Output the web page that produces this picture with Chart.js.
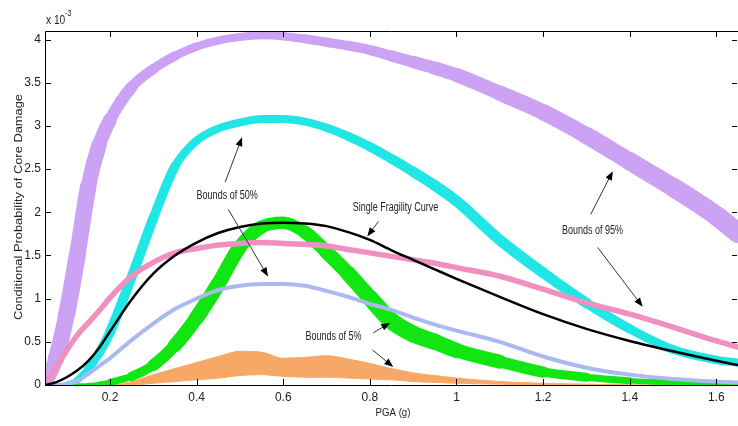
<!DOCTYPE html>
<html>
<head>
<meta charset="utf-8">
<script src="https://cdn.jsdelivr.net/npm/chart.js@4.4.0/dist/chart.umd.min.js"></script>
<style>
  html, body { margin: 0; padding: 0; background: #fff; }
  #wrap { width: 738px; height: 426px; }
</style>
</head>
<body>
<div id="wrap"><canvas id="chart" width="738" height="426"></canvas></div>
<script>
// PGA (g) sample points; probabilities are in units of 1e-3
const pga = [0.05, 0.075, 0.1, 0.125, 0.15, 0.175, 0.2, 0.25, 0.3, 0.35, 0.4, 0.45, 0.5, 0.55, 0.6,
  0.65, 0.7, 0.75, 0.8, 0.85, 0.9, 0.95, 1.0, 1.1, 1.2, 1.3, 1.4, 1.5, 1.6, 1.65];

const bound95Upper = [0.02, 0.3, 0.82, 1.52, 2.3, 2.78, 3.07, 3.45, 3.66, 3.81, 3.92, 3.99, 4.03, 4.05, 4.04,
  4.01, 3.97, 3.93, 3.88, 3.81, 3.74, 3.67, 3.59, 3.38, 3.16, 2.89, 2.59, 2.29, 1.96, 1.76];
const bound95Lower = [0, 0.2, 0.4, 0.58, 0.72, 0.86, 1.01, 1.26, 1.42, 1.53, 1.58, 1.62, 1.64, 1.65, 1.64,
  1.63, 1.61, 1.57, 1.53, 1.49, 1.45, 1.41, 1.36, 1.26, 1.11, 0.95, 0.82, 0.67, 0.51, 0.44];
const bound50Upper = [0, 0, 0.01, 0.06, 0.19, 0.37, 0.61, 1.25, 1.93, 2.53, 2.83, 2.97, 3.04, 3.08, 3.08,
  3.05, 2.98, 2.88, 2.76, 2.62, 2.47, 2.31, 2.13, 1.68, 1.30, 0.95, 0.65, 0.41, 0.29, 0.26];
const bound50Lower = [0, 0, 0.01, 0.05, 0.13, 0.22, 0.31, 0.52, 0.71, 0.88, 1.0, 1.1, 1.15, 1.17, 1.17,
  1.15, 1.09, 1.02, 0.94, 0.87, 0.78, 0.70, 0.63, 0.50, 0.33, 0.20, 0.12, 0.07, 0.04, 0.03];
const singleCurve = [0, 0.03, 0.09, 0.17, 0.28, 0.43, 0.62, 0.99, 1.29, 1.50, 1.65, 1.76, 1.83, 1.87, 1.88,
  1.87, 1.84, 1.77, 1.68, 1.56, 1.45, 1.34, 1.23, 1.02, 0.82, 0.65, 0.51, 0.39, 0.28, 0.23];
const bound5Upper = [0, 0, 0, 0, 0, 0.01, 0.03, 0.10, 0.23, 0.46, 0.78, 1.17, 1.60, 1.83, 1.88,
  1.77, 1.54, 1.29, 1.01, 0.74, 0.59, 0.50, 0.40, 0.27, 0.15, 0.09, 0.05, 0.03, 0.02, 0.01];
// lower 5% bound is a noisy band: top and bottom edge
const bound5LowerTop = [0, 0, 0, 0, 0, 0, 0, 0.04, 0.12, 0.19, 0.26, 0.33, 0.39, 0.38, 0.31,
  0.32, 0.34, 0.30, 0.25, 0.19, 0.14, 0.11, 0.08, 0.04, 0.02, 0.01, 0, 0, 0, 0];
const bound5LowerBottom = [0, 0, 0, 0, 0, 0, 0, 0, 0.02, 0.04, 0.06, 0.08, 0.11, 0.12, 0.10,
  0.09, 0.09, 0.08, 0.07, 0.06, 0.04, 0.03, 0.02, 0.01, 0, 0, 0, 0, 0, 0];

const xTicks = [0.2, 0.4, 0.6, 0.8, 1, 1.2, 1.4, 1.6];
const yTicks = [0, 0.5, 1, 1.5, 2, 2.5, 3, 3.5, 4];

// band thickness (px) per sample point, the noisy curves are drawn as thick strokes
const purpleWidth = [14, 16, 17, 17, 16, 15, 13, 11, 10, 9, 8, 8, 8, 8, 8, 9, 9, 10, 10, 11, 12, 13, 14, 15, 16, 17, 18, 19, 20, 20];
const greenWidth = [2, 2, 2, 3, 4, 5, 6, 8, 11, 13, 15, 15, 14, 13, 12, 13, 14, 15, 16, 17, 17, 16, 15, 13, 10, 8, 6, 5, 4, 4];
const cyanWidth = [3, 3, 4, 6, 8, 9, 10, 10, 10, 9, 8, 8, 8, 8, 8, 8, 8, 9, 9, 10, 10, 11, 11, 11, 11, 10, 9, 9, 8, 8];

const notes = [
  { text: "Bounds of 50%", x: 0.4705, y: 2.19, arrows: [[0.466, 2.35, 0.505, 2.87], [0.473, 2.035, 0.565, 1.256]] },
  { text: "Single Fragility Curve", x: 0.859, y: 2.05, arrows: [[0.820, 1.895, 0.794, 1.72]] },
  { text: "Bounds of 5%", x: 0.716, y: 0.56, arrows: [[0.808, 0.605, 0.847, 0.721], [0.806, 0.407, 0.854, 0.209]] },
  { text: "Bounds of 95%", x: 1.314, y: 1.79, arrows: [[1.310, 1.977, 1.361, 2.477], [1.326, 1.593, 1.430, 0.907]] }
];

const pts = arr => arr.map((v, i) => ({ x: pga[i], y: v }));

function line(data, color, width, extra) {
  return Object.assign({
    data: pts(data), borderColor: color, backgroundColor: color, borderWidth: width,
    pointRadius: 0, fill: false, cubicInterpolationMode: "monotone", borderCapStyle: "round"
  }, extra || {});
}
function band(data, color, widths) {
  return line(data, color, widths[0], {
    segment: { borderWidth: c => (widths[c.p0DataIndex] + widths[c.p1DataIndex]) / 2 }
  });
}

const TXT = "#222";
const FONT = "'Liberation Sans', Arial, sans-serif";

const framePlugin = {
  id: "frame",
  afterDraw(chart) {
    const ctx = chart.ctx;
    const a = chart.chartArea;
    const xs = chart.scales.x, ys = chart.scales.y;
    ctx.save();
    ctx.strokeStyle = "#000";
    ctx.lineWidth = 1;
    ctx.beginPath();
    ctx.moveTo(a.left + 0.5, a.bottom + 0.5);
    ctx.lineTo(a.left + 0.5, a.top + 0.5);
    ctx.lineTo(a.right, a.top + 0.5);
    ctx.moveTo(a.left, a.bottom + 0.5);
    ctx.lineTo(a.right, a.bottom + 0.5);
    xTicks.forEach(v => {
      const px = Math.round(xs.getPixelForValue(v)) + 0.5;
      ctx.moveTo(px, a.bottom); ctx.lineTo(px, a.bottom - 6);
      ctx.moveTo(px, a.top); ctx.lineTo(px, a.top + 6);
    });
    yTicks.forEach(v => {
      const py = Math.round(ys.getPixelForValue(v)) + 0.5;
      ctx.moveTo(a.left, py); ctx.lineTo(a.left + 6, py);
      ctx.moveTo(a.right - 1, py); ctx.lineTo(a.right - 6, py);
    });
    ctx.stroke();

    // annotations
    ctx.fillStyle = TXT;
    ctx.font = "12px " + FONT;
    ctx.textBaseline = "middle";
    ctx.textAlign = "center";
    notes.forEach(n => {
      const px = xs.getPixelForValue(n.x), py = ys.getPixelForValue(n.y);
      ctx.save();
      ctx.translate(px, py);
      ctx.scale(0.75, 1);
      ctx.fillText(n.text, 0, 0);
      ctx.restore();
      n.arrows.forEach(ar => {
        const x1 = xs.getPixelForValue(ar[0]), y1 = ys.getPixelForValue(ar[1]);
        const x2 = xs.getPixelForValue(ar[2]), y2 = ys.getPixelForValue(ar[3]);
        const ang = Math.atan2(y2 - y1, x2 - x1);
        ctx.strokeStyle = "#333";
        ctx.lineWidth = 1;
        ctx.beginPath();
        ctx.moveTo(x1, y1);
        ctx.lineTo(x2 - 5 * Math.cos(ang), y2 - 5 * Math.sin(ang));
        ctx.stroke();
        ctx.fillStyle = "#000";
        ctx.beginPath();
        ctx.moveTo(x2, y2);
        ctx.lineTo(x2 - 9 * Math.cos(ang) + 3.5 * Math.sin(ang), y2 - 9 * Math.sin(ang) - 3.5 * Math.cos(ang));
        ctx.lineTo(x2 - 9 * Math.cos(ang) - 3.5 * Math.sin(ang), y2 - 9 * Math.sin(ang) + 3.5 * Math.cos(ang));
        ctx.closePath();
        ctx.fill();
        ctx.fillStyle = TXT;
      });
    });

    // axis titles and exponent
    ctx.font = "11px " + FONT;
    ctx.textAlign = "center";
    ctx.textBaseline = "middle";
    ctx.save();
    ctx.translate(393, 413);
    ctx.scale(0.88, 1);
    ctx.fillText("PGA (g)", 0, 0);
    ctx.restore();
    ctx.save();
    ctx.translate(19, 207);
    ctx.rotate(-Math.PI / 2);
    ctx.scale(1.17, 1);
    ctx.fillText("Conditional Probability of Core Damage", 0, 0);
    ctx.restore();
    ctx.textAlign = "left";
    ctx.textBaseline = "alphabetic";
    ctx.font = "12px " + FONT;
    ctx.save();
    ctx.translate(46, 24);
    ctx.scale(0.85, 1);
    ctx.fillText("x 10", 0, 0);
    ctx.font = "9px " + FONT;
    ctx.fillText("-3", 22, -8);
    ctx.restore();
    ctx.restore();
  }
};

new Chart(document.getElementById("chart"), {
  type: "line",
  data: {
    datasets: [
      line(singleCurve, "#000000", 2.5),
      line(bound95Lower, "#ef90c0", 5.5),
      line(bound50Lower, "#aab9ef", 4),
      band(bound50Upper, "#20e6e6", cyanWidth),
      band(bound95Upper, "#cca2f4", purpleWidth),
      band(bound5Upper, "#12e612", greenWidth),
      line(bound5LowerTop, "#f8a866", 1, { fill: "+1" }),
      line(bound5LowerBottom, "#f8a866", 1)
    ]
  },
  options: {
    responsive: false,
    animation: false,
    devicePixelRatio: 1,
    layout: { padding: { top: 31, left: 0, right: 0, bottom: 0 } },
    plugins: { legend: { display: false }, tooltip: { enabled: false } },
    scales: {
      x: {
        type: "linear", min: 0.05, max: 1.65,
        afterBuildTicks: s => { s.ticks = xTicks.map(v => ({ value: v })); },
        afterFit: s => { s.height = 41; },
        grid: { display: false, drawTicks: false },
        border: { display: false },
        ticks: { padding: 5, color: TXT, font: { family: FONT, size: 12 }, maxRotation: 0, callback: v => String(v) }
      },
      y: {
        type: "linear", min: 0, max: 4.1,
        afterBuildTicks: s => { s.ticks = yTicks.map(v => ({ value: v })); },
        afterFit: s => { s.width = 45; },
        grid: { display: false, drawTicks: false },
        border: { display: false },
        ticks: { padding: 4, color: TXT, font: { family: FONT, size: 12 }, callback: v => String(v) }
      }
    }
  },
  plugins: [framePlugin]
});
</script>
</body>
</html>
